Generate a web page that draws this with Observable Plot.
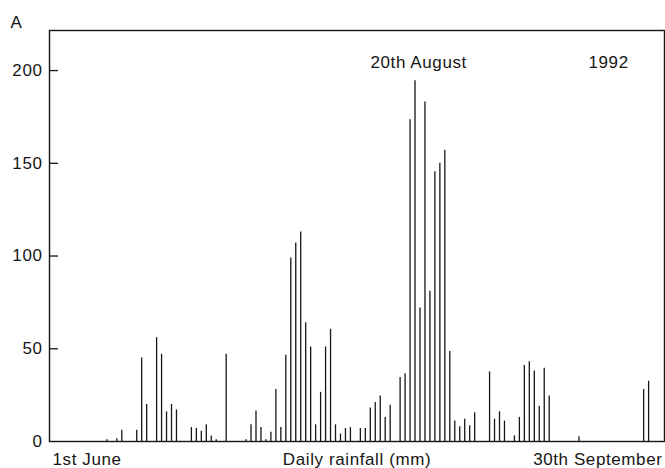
<!DOCTYPE html>
<html>
<head>
<meta charset="utf-8">
<script src="https://cdn.jsdelivr.net/npm/d3@7"></script>
<script src="https://cdn.jsdelivr.net/npm/@observablehq/plot@0.6"></script>
<style>
  html, body { margin: 0; padding: 0; background: #fff; }
  #chart svg { display: block; }
  #chart svg text { letter-spacing: 0.6px; }
</style>
</head>
<body>
<div id="chart"></div>
<script>
// Day number counted from 1st June (1) to 30th September (122)
const days = [11, 13, 14, 17, 18, 19, 21, 22, 23, 24, 25, 28, 29, 30, 31, 32, 33, 35,
  39, 40, 41, 42, 43, 44, 45, 46, 47, 48, 49, 50, 51, 52, 53, 54, 55, 56, 57, 58, 59, 60,
  62, 63, 64, 65, 66, 67, 68, 70, 71, 72, 73, 74, 75, 76, 77, 78, 79, 80, 81, 82, 83, 84, 85,
  88, 89, 90, 91, 93, 94, 95, 96, 97, 98, 99, 100, 106, 119, 120];
// Daily rainfall (mm)
const rainfall = [1, 1.5, 6, 6, 45, 20, 56, 47, 16, 20, 17, 7.5, 7, 5.5, 9, 3, 1, 47,
  1, 9, 16.5, 7.5, 1, 5, 28, 7.5, 46.5, 99, 107, 113, 64, 51, 9, 26.5, 51, 60.5, 9, 4, 7, 7.5,
  7, 7, 18, 21, 24.5, 13, 19.5, 34.5, 36.5, 173.5, 194.5, 72, 183, 81, 145.5, 150, 157, 48.5, 11, 8, 12, 8.5, 15.5,
  37.5, 12, 16, 11, 3, 13, 41, 43, 38, 19, 39.5, 24.5, 2.5, 28, 32.5];

const yTicks = [0, 50, 100, 150, 200];
const xLabels = ["1st June", "Daily rainfall (mm)", "30th September"];
const panelLabel = "A";
const dateLabel = "20th August";
const yearLabel = "1992";

const data = days.map((d, i) => ({day: d, mm: rainfall[i]}));

const font = "'Liberation Sans', Arial, Helvetica, sans-serif";
const ink = "#161616";
const fs = 17;

const chart = Plot.plot({
  width: 665,
  height: 468,
  marginLeft: 49,
  marginRight: 1,
  marginTop: 30,
  marginBottom: 27,
  style: {fontFamily: font, fontSize: fs + "px", color: ink, background: "#fff"},
  x: {type: "linear", domain: [-0.55, 123.2], axis: null},
  y: {domain: [0, 221.6], axis: null},
  marks: [
    Plot.ruleX(data, {x: "day", y1: 0, y2: "mm", stroke: ink, strokeWidth: 1.3}),
    Plot.tickY(yTicks.filter(v => v > 0), {y: d => d, insetRight: 606, stroke: ink, strokeWidth: 1.3}),
    Plot.axisY(yTicks, {label: null, tickSize: 0, tickPadding: 7, fontSize: fs, fill: ink}),
    Plot.frame({stroke: ink, strokeWidth: 1.4}),
    Plot.text([xLabels[0]], {frameAnchor: "bottom-left", text: d => d, textAnchor: "start", lineAnchor: "middle", dx: 3, dy: 18, fontSize: fs, fill: ink}),
    Plot.text([xLabels[1]], {frameAnchor: "bottom", text: d => d, textAnchor: "middle", lineAnchor: "middle", dx: 0, dy: 18, fontSize: fs, fill: ink}),
    Plot.text([xLabels[2]], {frameAnchor: "bottom-right", text: d => d, textAnchor: "end", lineAnchor: "middle", dx: -2, dy: 18, fontSize: fs, fill: ink}),
    Plot.text([panelLabel], {frameAnchor: "top-left", text: d => d, textAnchor: "start", lineAnchor: "middle", dx: -39, dy: -8, fontSize: fs, fill: ink}),
    Plot.text([dateLabel], {frameAnchor: "top-left", text: d => d, textAnchor: "start", lineAnchor: "middle", dx: 321, dy: 32, fontSize: fs, fill: ink}),
    Plot.text([yearLabel], {frameAnchor: "top-left", text: d => d, textAnchor: "start", lineAnchor: "middle", dx: 539, dy: 32, fontSize: fs, fill: ink})
  ]
});

document.getElementById("chart").appendChild(chart);
</script>
</body>
</html>
